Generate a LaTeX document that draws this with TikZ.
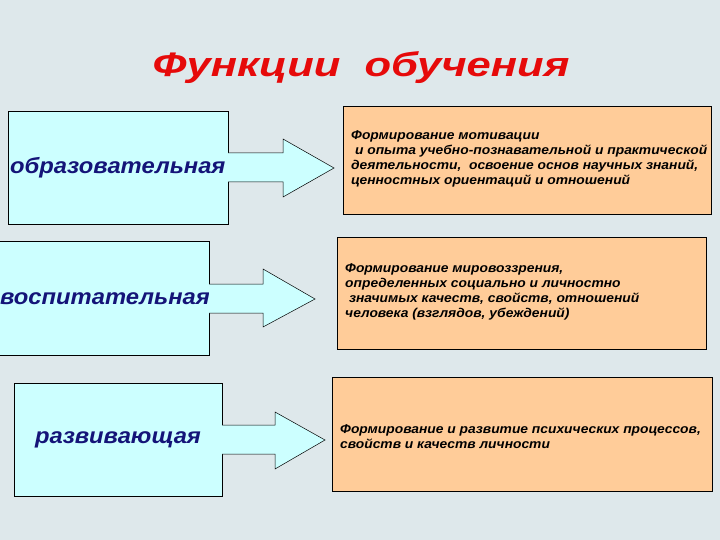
\documentclass[tikz,border=0pt]{standalone}
\usepackage{fontspec}
\setmainfont{Liberation Sans}
\newfontfamily\titlefont[FakeStretch=1.28]{Liberation Sans}
\newfontfamily\labelfont[FakeStretch=1.08]{Liberation Sans}
\newfontfamily\descfont[FakeStretch=1.08]{Liberation Sans}
\begin{document}
\definecolor{bg}{RGB}{222,232,235}
\definecolor{cyanfill}{RGB}{204,255,255}
\definecolor{orangefill}{RGB}{255,204,153}
\definecolor{titlered}{RGB}{230,10,10}
\definecolor{navy}{RGB}{20,20,120}
\begin{tikzpicture}[x=1pt,y=-1pt,
  funcbox/.style={draw=black,line width=0.8pt,fill=cyanfill},
  descbox/.style={draw=black,line width=0.8pt,fill=orangefill},
  arrowshape/.style={draw=black,line width=0.5pt,fill=cyanfill},
  funclabel/.style={font=\labelfont\fontsize{22}{26}\selectfont\bfseries\itshape,text=navy,inner sep=0pt},
  desctext/.style={font=\descfont\fontsize{12.8}{15}\selectfont\bfseries\itshape,text=black,align=left,inner sep=0pt,anchor=north west}]
\fill[bg] (0,0) rectangle (720,540);
\useasboundingbox (0,0) rectangle (720,540);
% title
\node[font=\titlefont\fontsize{34}{38}\selectfont\bfseries\itshape,text=titlered] (title) at (361,68) {Функции\ \ обучения};
% row 1
\draw[funcbox] (8,111) rectangle (228,224);
\node[funclabel,anchor=west] (f1) at (10,168) {образовательная};
\draw[arrowshape] (228,153) -- (283,153) -- (283,139) -- (334,168) -- (283,197) -- (283,182) -- (228,182);
\draw[descbox] (343,106) rectangle (711,214);
\node[desctext] (d1) at (351,130) {Формирование мотивации\\ \ и опыта учебно-познавательной и практической\\деятельности,\ \ освоение основ научных знаний,\\ценностных ориентаций и отношений};
% row 2
\draw[funcbox] (-2,241) rectangle (209,355);
\node[funclabel,anchor=west] (f2) at (0,299) {воспитательная};
\draw[arrowshape] (209,284) -- (263,284) -- (263,269) -- (315,299) -- (263,327) -- (263,313) -- (209,313);
\draw[descbox] (337,237) rectangle (706,349);
\node[desctext] (d2) at (345,263) {Формирование мировоззрения,\\определенных социально и личностно\\ \ значимых качеств, свойств, отношений\\человека (взглядов, убеждений)};
% row 3
\draw[funcbox] (14,383) rectangle (222,496);
\node[funclabel] (f3) at (118,440) {развивающая};
\draw[arrowshape] (222,425) -- (275,425) -- (275,412) -- (325,440) -- (275,469) -- (275,454) -- (222,454);
\draw[descbox] (332,377) rectangle (712,491);
\node[desctext] (d3) at (340,424) {Формирование и развитие психических процессов,\\свойств и качеств личности};
\end{tikzpicture}
\end{document}
